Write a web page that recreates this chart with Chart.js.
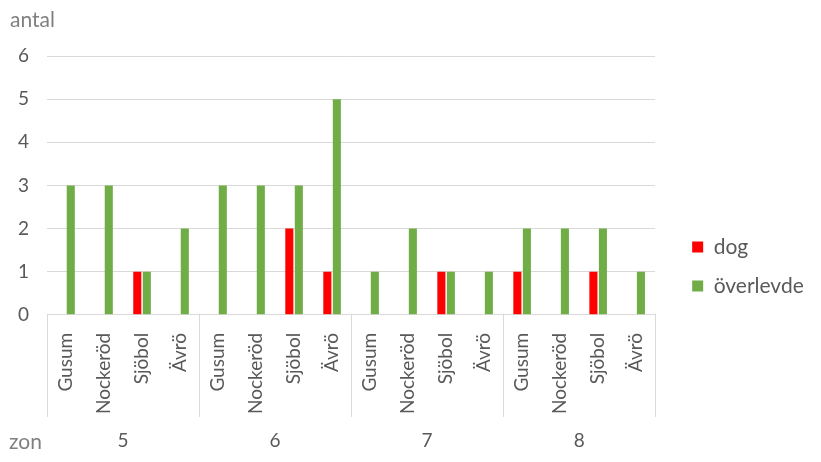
<!DOCTYPE html>
<html>
<head>
<meta charset="utf-8">
<script src="https://cdn.jsdelivr.net/npm/chart.js@4/dist/chart.umd.min.js"></script>
<style>
html,body{margin:0;padding:0;background:#fff;}
#wrap{width:821px;height:462px;position:relative;}
</style>
</head>
<body>
<div id="wrap"><canvas id="c"></canvas></div>
<script>
const zones = ['5', '6', '7', '8'];
const sites = ['Gusum', 'Nockeröd', 'Sjöbol', 'Ävrö'];
const dog = [0, 0, 1, 0, 0, 0, 2, 1, 0, 0, 1, 0, 1, 0, 1, 0];
const overlevde = [3, 3, 1, 2, 3, 3, 3, 5, 1, 2, 1, 1, 2, 2, 2, 1];
const yTicks = [0, 1, 2, 3, 4, 5, 6];
const yTitle = 'antal';
const xTitle = 'zon';

const labels = [];
zones.forEach(() => sites.forEach(s => labels.push(s)));

const FONT = "Lato, 'Open Sans', sans-serif";
const TXT = '#595959';

const groupPlugin = {
  id: 'groupPlugin',
  afterDraw(chart) {
    const ctx = chart.ctx;
    const xs = chart.scales.x;
    const area = chart.chartArea;
    const n = labels.length;
    const w = (xs.right - xs.left) / n;
    ctx.save();
    ctx.strokeStyle = '#d9d9d9';
    ctx.lineWidth = 1;
    for (let g = 0; g <= zones.length; g++) {
      const x = Math.round(xs.left + g * sites.length * w) + 0.5;
      ctx.beginPath();
      ctx.moveTo(x, area.bottom);
      ctx.lineTo(x, area.bottom + 102);
      ctx.stroke();
    }
    ctx.fillStyle = TXT;
    ctx.font = '19px ' + FONT;
    ctx.textAlign = 'center';
    ctx.textBaseline = 'middle';
    zones.forEach((z, g) => {
      const cx = xs.left + (g * sites.length + sites.length / 2) * w;
      ctx.fillText(z, cx, 441);
    });
    ctx.textAlign = 'left';
    ctx.fillStyle = '#7f7f7f';
    ctx.font = '21px ' + FONT;
    ctx.fillText(yTitle, 10, 20);
    ctx.fillText(xTitle, 9, 442);
    ctx.restore();
  }
};

new Chart(document.getElementById('c'), {
  type: 'bar',
  data: {
    labels: labels,
    datasets: [
      { label: 'dog', data: dog, backgroundColor: '#ff0000', borderWidth: 0 },
      { label: 'överlevde', data: overlevde, backgroundColor: '#70ad47', borderWidth: 0 }
    ]
  },
  options: {
    responsive: true,
    maintainAspectRatio: false,
    animation: false,
    categoryPercentage: 0.5,
    barPercentage: 0.85,
    layout: { padding: { top: 56, left: 0, right: 12, bottom: 38 } },
    plugins: {
      tooltip: { enabled: false },
      legend: {
        position: 'right',
        align: 'start',
        title: { display: true, text: ' ', padding: { top: 160, bottom: 0 }, font: { size: 2 } },
        labels: {
          boxWidth: 11, boxHeight: 11, padding: 18,
          color: TXT,
          font: { family: FONT, size: 21 }
        }
      }
    },
    scales: {
      x: {
        grid: { display: false },
        border: { display: true, color: '#d9d9d9' },
        ticks: {
          autoSkip: false, maxRotation: 90, minRotation: 90,
          color: TXT, padding: 10,
          font: { family: FONT, size: 19 }
        }
      },
      y: {
        min: 0, max: 6,
        afterBuildTicks(scale) { scale.ticks = yTicks.map(v => ({ value: v })); },
        grid: { color: '#d9d9d9', drawTicks: false },
        border: { display: false },
        ticks: {
          stepSize: 1, color: TXT, padding: 18,
          font: { family: FONT, size: 19 }
        }
      },
      gap: {
        position: 'right',
        display: true,
        grid: { drawOnChartArea: false, drawTicks: false },
        border: { display: false },
        ticks: { display: false },
        afterFit(scale) { scale.width = 19; }
      }
    }
  },
  plugins: [groupPlugin]
});
</script>
</body>
</html>
